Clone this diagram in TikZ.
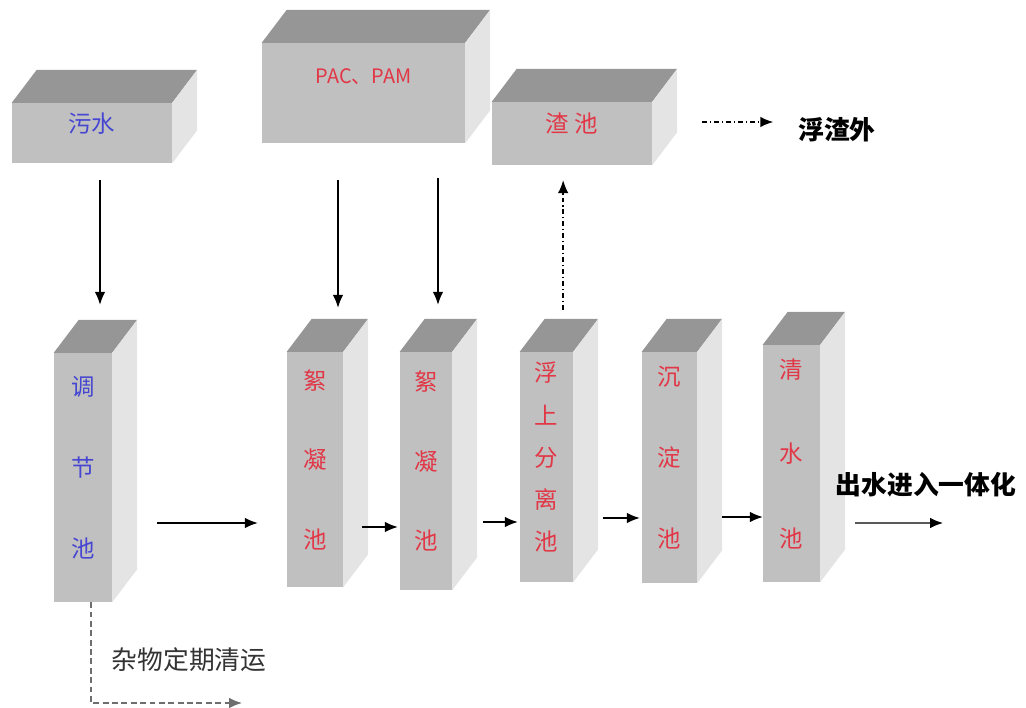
\documentclass[tikz,border=0pt]{standalone}
\usepackage{fontspec}
\setmainfont{Noto Sans CJK SC}
\usetikzlibrary{fit,arrows.meta}
\tikzset{>={Latex[length=11pt,width=9pt]}}

\definecolor{frontgray}{RGB}{192,192,192}
\definecolor{topgray}{RGB}{150,150,150}
\definecolor{sidegray}{RGB}{228,228,228}
\definecolor{poolred}{RGB}{225,55,70}
\definecolor{poolblue}{RGB}{70,70,210}
\definecolor{wastegray}{RGB}{110,110,110}

\newcommand{\poolfont}{\fontsize{20}{23}\selectfont}
\newcommand{\notefont}{\fontsize{22}{26}\selectfont}

\tikzset{
	pool/.style={fill=frontgray, inner sep=0pt, font=\poolfont, align=center},
	flow/.style={->, line width=1.2pt},
	dashdot/.style={->, line width=1.2pt, dash pattern=on 4pt off 2.5pt on 1.2pt off 2.5pt},
	wasteline/.style={->, line width=1.2pt, wastegray, dash pattern=on 5pt off 3pt},
	bigtxt/.style={font=\notefont\bfseries},
	note/.style={font=\notefont, text=black!80}
}

% front face as node, top and side drawn from its anchors
\newcommand{\poolbox}[4]{%
	\node[pool, fit={#2 #3}] (#1) {#4};
	\fill[topgray] (#1.north west) -- ([shift={(25,-33)}]#1.north west) -- ([shift={(25,-33)}]#1.north east) -- (#1.north east) -- cycle;
	\fill[sidegray] (#1.north east) -- ([shift={(25,-33)}]#1.north east) -- ([shift={(25,-33)}]#1.south east) -- (#1.south east) -- cycle;
}

\begin{document}
\begin{tikzpicture}[x=0.03cm,y=-0.03cm]
	\useasboundingbox (0,0) rectangle (1026,708);
	% top row
	\poolbox{wushui}{(12,103)}{(172,163)}{\color{poolblue}污水}
	\poolbox{pac}{(262,43)}{(465,143)}{}
	\node[font=\fontsize{17}{20}\selectfont, text=poolred] (pactxt) at ([yshift=0.48cm]pac.center) {PAC、PAM};
	\poolbox{zhachi}{(492,102)}{(652,165)}{\color{poolred}渣 池}
	\node[bigtxt] (fuzha) at (837,130) {浮渣外};
	% tanks
	\poolbox{tiaojie}{(54,353)}{(112,602)}{\color{poolblue}调\\[46pt]节\\[46pt]池}
	\poolbox{xuning1}{(287,352)}{(343,587)}{\color{poolred}絮\\[45pt]凝\\[45pt]池}
	\poolbox{xuning2}{(400,352)}{(452,590)}{\color{poolred}絮\\[45pt]凝\\[45pt]池}
	\poolbox{fushang}{(520,352)}{(573,582)}{\color{poolred}浮\\[13pt]上\\[13pt]分\\[13pt]离\\[13pt]池}
	\poolbox{chendian}{(642,352)}{(697,583)}{\color{poolred}沉\\[46pt]淀\\[46pt]池}
	\poolbox{qingshui}{(763,345)}{(820,582)}{\color{poolred}清\\[49pt]水\\[49pt]池}
	\node[bigtxt] (chushui) at (926,485) {出水进入一体化};
	\node[note] (zawu) at (189,660) {杂物定期清运};
	\coordinate (outlet) at (943,523);
	\coordinate (waste) at (242,703);

	% dosing
	\draw[flow, shorten <=0.51cm, shorten >=1.44cm] ([xshift=0.24cm]wushui.south) -- ([xshift=0.24cm]wushui.south |- tiaojie.north);
	\draw[flow, shorten <=1.11cm, shorten >=1.32cm] ([xshift=0.69cm]xuning1.north |- pac.south) -- ([xshift=0.69cm]xuning1.north);
	\draw[flow, shorten <=1.05cm, shorten >=1.41cm] ([xshift=0.36cm]xuning2.north |- pac.south) -- ([xshift=0.36cm]xuning2.north);
	% scum
	\draw[dashdot, shorten <=1.26cm, shorten >=0.45cm] ([xshift=0.5cm]fushang.north) -- ([xshift=0.5cm]fushang.north |- zhachi.south);
	\draw[dashdot, shorten <=1.5cm, shorten >=0.63cm] ([yshift=0.345cm]zhachi.east) -- ([yshift=0.345cm]zhachi.east -| fuzha.west);
	% main line
	\draw[flow, shorten <=1.35cm, shorten >=0.87cm] ([yshift=-1.365cm]tiaojie.east) -- ([yshift=-1.365cm]tiaojie.east -| xuning1.west);
	\draw[flow, shorten <=0.57cm, shorten >=0.06cm] ([yshift=-1.725cm]xuning1.east) -- ([yshift=-1.725cm]xuning1.east -| xuning2.west);
	\draw[flow, shorten <=0.93cm, shorten >=0.06cm] ([yshift=-1.53cm]xuning2.east) -- ([yshift=-1.53cm]xuning2.east -| fushang.west);
	\draw[flow, shorten <=0.9cm, shorten >=0.06cm] ([yshift=-1.53cm]fushang.east) -- ([yshift=-1.53cm]fushang.east -| chendian.west);
	\draw[flow, shorten <=0.75cm] ([yshift=-1.485cm]chendian.east) -- ([yshift=-1.485cm]chendian.east -| qingshui.west);
	\draw[flow, shorten <=1.05cm] ([yshift=-1.785cm]qingshui.east) -- (outlet);
	\draw[wasteline] ([xshift=0.24cm]tiaojie.south) |- (waste);
\end{tikzpicture}
\end{document}
